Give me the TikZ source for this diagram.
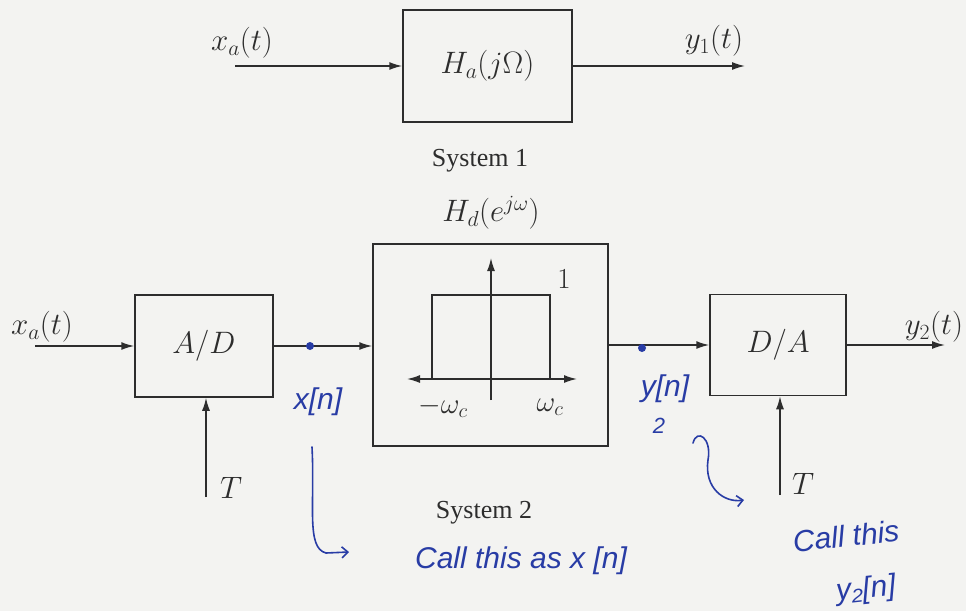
\RequirePackage{fix-cm}
\documentclass[tikz,border=0pt]{standalone}
\usepackage{fontspec}
\usetikzlibrary{arrows.meta}
\newfontfamily\timesf{Liberation Serif}
\newfontfamily\handf{Liberation Sans}
\definecolor{paper}{RGB}{243,243,241}
\definecolor{ink}{RGB}{45,45,45}
\definecolor{pen}{RGB}{40,60,165}
\begin{document}
\begin{tikzpicture}[x=1pt,y=-1pt,
  every node/.style={text=ink},
  blk/.style={draw=ink, line width=1.5pt, inner sep=0pt},
  sig/.style={draw=ink, line width=1.5pt, -{Latex[length=13pt,width=8pt]}},
  plotline/.style={draw=ink, line width=1.5pt},
  mlabel/.style={font=\fontsize{31}{36}\selectfont, inner sep=0pt},
  plabel/.style={font=\fontsize{29}{34}\selectfont, inner sep=0pt},
  caption/.style={font=\timesf\fontsize{26}{30}\selectfont, inner sep=0pt},
  hand/.style={text=pen, font=\handf\itshape\fontsize{30}{34}\selectfont, inner sep=0pt},
  handline/.style={draw=pen, line width=1.6pt, line cap=round, line join=round},
  dot/.style={circle, fill=pen, inner sep=0pt, minimum size=8pt}]
\fill[paper] (0,0) rectangle (966,611);
\useasboundingbox (0,0) rectangle (966,611);

% ---------- System 1 ----------
\node[blk, mlabel, minimum width=169pt, minimum height=112pt] (ha) at (487.5,66) {$H_a(j\Omega)$};
\coordinate (in1) at (235,66);
\coordinate (out1) at (745,66);
\draw[sig] (in1) -- (ha.west);
\draw[sig] (ha.east) -- (out1);
\node[mlabel] (xa1) at (242,43) {$x_a(t)$};
\node[mlabel] (y1) at (714,41) {$y_1(t)$};
\node[caption] (sys1) at (480,161) {System 1};

% ---------- System 2 ----------
\node[blk, mlabel, minimum width=138pt, minimum height=102pt] (ad) at (204,346) {$A/D$};
\node[blk, minimum width=235pt, minimum height=202pt] (hd) at (490.5,345) {};
\node[mlabel] (hdl) at (491,213) {$H_d(e^{j\omega})$};
\node[blk, mlabel, minimum width=136pt, minimum height=101pt] (da) at (778,345) {$D/A$};

\coordinate (in2) at (35,346);
\coordinate (out2) at (945,345);
\draw[sig] (in2) -- (ad.west);
\draw[sig] (ad.east) -- (hd.west |- ad.east);
\draw[sig] (hd.east |- da.west) -- (da.west);
\draw[sig] (da.east) -- (out2);
\node[mlabel] (xa2) at (42,327) {$x_a(t)$};
\node[mlabel] (y2) at (934,327) {$y_2(t)$};

\coordinate (t1) at (206,497);
\coordinate (t2) at (780,495);
\draw[sig] (t1) -- (t1 |- ad.south);
\draw[sig] (t2) -- (t2 |- da.south);
\node[mlabel] (tl1) at (231,488) {$T$};
\node[mlabel] (tl2) at (803,484) {$T$};

% inner frequency response
\coordinate (va0) at (491,400);
\coordinate (va1) at (491,258);
\coordinate (hx0) at (407,379);
\coordinate (hx1) at (577,379);
\draw[sig] (va0) -- (va1);
\draw[plotline, {Latex[length=13pt,width=8pt]}-{Latex[length=13pt,width=8pt]}] (hx0) -- (hx1);
\draw[plotline] (432,379) -- (432,295) -- (550,295) -- (550,379);
\node[plabel] (one) at (564,279) {$1$};
\node[plabel] (wcm) at (443,407) {$-\omega_c$};
\node[plabel] (wcp) at (550,407) {$\omega_c$};

\node[caption] (sys2) at (484,513) {System 2};

% ---------- handwritten notes ----------
\node[dot] (xd) at (310,346) {};
\node[dot] (yd) at (642,348) {};
\node[hand] (xn) at (318,402) {x[n]};
\node[hand] (yn) at (665,389) {y[n]};
\node[hand, font=\handf\itshape\fontsize{22}{26}\selectfont] (ysub) at (659,426) {2};

\coordinate (h1s) at (312,447);
\coordinate (h1e) at (349,552);
\draw[handline, -{Straight Barb[length=6pt,width=11pt]}] (h1s) .. controls (315,505) and (306,548) .. (326,553) -- (h1e);

\coordinate (h2s) at (693,443);
\coordinate (h2e) at (744,500);
\draw[handline, -{Straight Barb[length=6pt,width=11pt]}] (h2s) .. controls (697,428) and (712,438) .. (708,460) .. controls (704,488) and (724,503) .. (h2e);

\node[hand] (c1) at (521,561) {Call this as x [n]};
\node[hand, rotate=6] (c2) at (846,536) {Call this};
\node[hand, rotate=6] (c3) at (866,590) {y₂[n]};
\end{tikzpicture}
\end{document}
